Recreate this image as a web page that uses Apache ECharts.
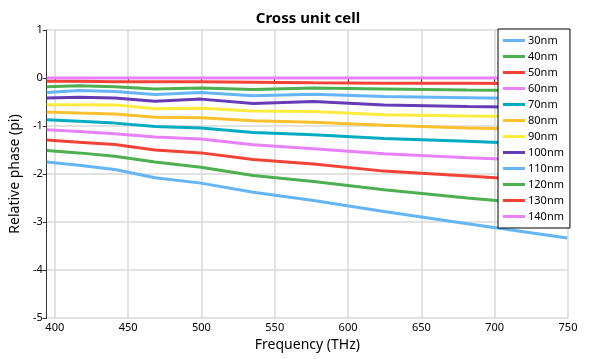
<!DOCTYPE html>
<html>
<head>
<meta charset="utf-8">
<script src="https://cdn.jsdelivr.net/npm/echarts@6/dist/echarts.min.js"></script>
<style>
  html, body { margin: 0; padding: 0; background: #fff; }
  #chart { width: 598px; height: 359px; }
</style>
</head>
<body>
<div id="chart"></div>
<script>
// sample frequencies (THz)
const freqs = [394.5, 416.4, 440.9, 468.4, 499.7, 535.3, 576.5, 624.6, 681.4, 749.5];
const xTicks = [400, 450, 500, 550, 600, 650, 700, 750];

const names = ["30nm", "40nm", "50nm", "60nm", "70nm", "80nm", "90nm", "100nm", "110nm", "120nm", "130nm", "140nm"];
const colors = ["#64b5f6", "#4caf50", "#f44336", "#ea80fc", "#00acc1", "#fbc02d", "#ffeb3b", "#673ab7", "#64b5f6", "#4caf50", "#f44336", "#ea80fc"];

const phase30 = [-1.75, -1.82, -1.905, -2.08, -2.19, -2.38, -2.55, -2.78, -3.035, -3.335];
const phase40 = [-1.51, -1.56, -1.63, -1.75, -1.86, -2.03, -2.155, -2.33, -2.50, -2.68];
const phase50 = [-1.29, -1.34, -1.385, -1.50, -1.56, -1.70, -1.79, -1.94, -2.04, -2.17];
const phase60 = [-1.08, -1.115, -1.16, -1.23, -1.27, -1.39, -1.475, -1.58, -1.66, -1.74];
const phase70 = [-0.87, -0.90, -0.94, -1.01, -1.04, -1.135, -1.18, -1.26, -1.32, -1.40];
const phase80 = [-0.71, -0.73, -0.75, -0.82, -0.83, -0.89, -0.92, -0.985, -1.04, -1.08];
const phase90 = [-0.555, -0.555, -0.56, -0.64, -0.63, -0.69, -0.70, -0.765, -0.79, -0.81];
const phase100 = [-0.415, -0.40, -0.415, -0.485, -0.44, -0.53, -0.49, -0.565, -0.595, -0.62];
const phase110 = [-0.30, -0.26, -0.28, -0.345, -0.30, -0.37, -0.34, -0.385, -0.41, -0.44];
const phase120 = [-0.18, -0.16, -0.18, -0.23, -0.21, -0.24, -0.21, -0.23, -0.25, -0.27];
const phase130 = [-0.07, -0.07, -0.08, -0.08, -0.08, -0.09, -0.10, -0.11, -0.11, -0.12];
const phase140 = [0, 0, 0, 0, 0, 0, 0, 0, 0, 0];

const allPhases = [phase30, phase40, phase50, phase60, phase70, phase80, phase90,
  phase100, phase110, phase120, phase130, phase140];

const font = "Noto Sans";

const series = names.map((n, i) => ({
  name: n,
  type: "line",
  showSymbol: false,
  smooth: false,
  lineStyle: {width: 3, color: colors[i]},
  itemStyle: {color: colors[i]},
  data: freqs.map((f, j) => [f, allPhases[i][j]])
}));

const chart = echarts.init(document.getElementById("chart"));
chart.setOption({
  animation: false,
  textStyle: {fontFamily: font},
  title: {
    text: "Cross unit cell",
    left: 303,
    top: 6,
    textAlign: "center",
    textStyle: {fontFamily: font, fontSize: 15, fontWeight: "bold", color: "#000"}
  },
  grid: {left: 39, right: 30, top: 30, bottom: 41},
  legend: {
    orient: "vertical",
    left: 498,
    top: 29,
    padding: [5, 6, 5, 5],
    backgroundColor: "#fff",
    borderColor: "#000",
    borderWidth: 1,
    icon: "rect",
    itemWidth: 22,
    itemHeight: 3,
    itemGap: 3,
    textStyle: {fontFamily: font, fontSize: 11, color: "#000", lineHeight: 13, padding: [0, 0, 0, -2]},
    data: names
  },
  xAxis: {
    type: "value",
    min: 394.5,
    max: 750,
    name: "Frequency (THz)",
    nameLocation: "middle",
    nameGap: 17,
    nameTextStyle: {fontFamily: font, fontSize: 14, color: "#000"},
    axisLine: {lineStyle: {color: "#333", width: 1}},
    axisTick: {show: true, length: 4, customValues: xTicks, lineStyle: {color: "#333"}},
    axisLabel: {customValues: xTicks, fontSize: 11, color: "#000", margin: 4},
    splitLine: {show: true, lineStyle: {color: "#d9d9d9", width: 1.5}}
  },
  yAxis: {
    type: "value",
    min: -5,
    max: 1,
    interval: 1,
    name: "Relative phase (pi)",
    nameLocation: "middle",
    nameGap: 17,
    nameTextStyle: {fontFamily: font, fontSize: 14, color: "#000"},
    axisLine: {show: true, lineStyle: {color: "#333", width: 1}},
    axisTick: {show: true, length: 4, lineStyle: {color: "#333"}},
    axisLabel: {fontSize: 11, color: "#000", margin: 4},
    splitLine: {show: true, lineStyle: {color: "#d9d9d9", width: 1.5}}
  },
  series: series
});
</script>
</body>
</html>
